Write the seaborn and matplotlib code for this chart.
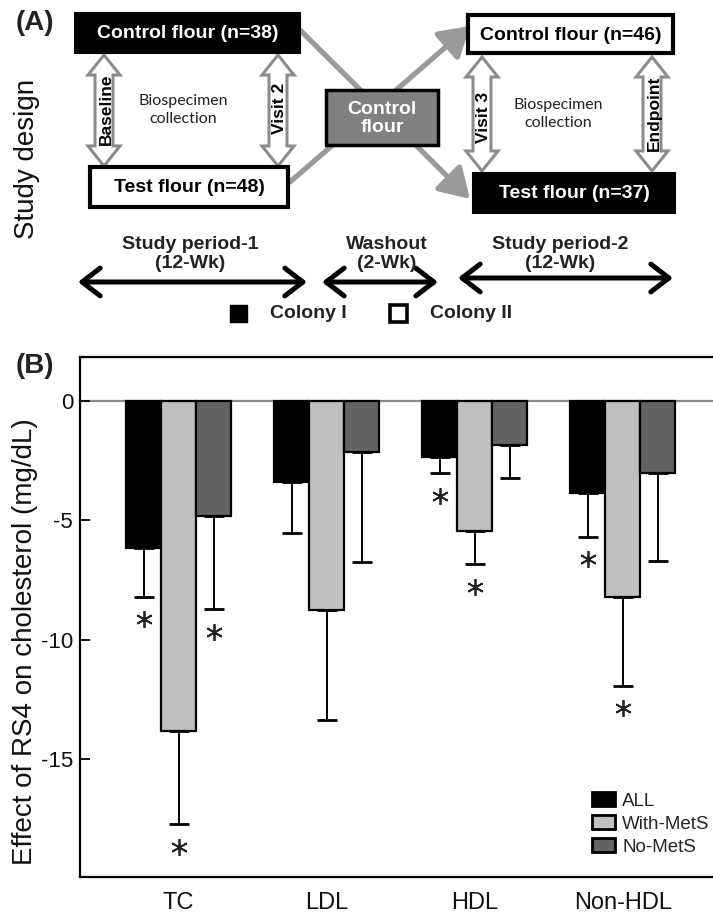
import matplotlib
matplotlib.use('Agg')
import matplotlib.pyplot as plt
import seaborn as sns
import pandas as pd
from matplotlib.patches import Rectangle, Polygon
from matplotlib import font_manager

# ---------------- data (panel B) ----------------
categories = ['TC', 'LDL', 'HDL', 'Non-HDL']
groups = ['ALL', 'With-MetS', 'No-MetS']
all_mean = [-6.18, -3.39, -2.37, -3.85]
all_err = [2.02, 2.13, 0.67, 1.84]
with_mean = [-13.82, -8.75, -5.44, -8.20]
with_err = [3.89, 4.61, 1.41, 3.72]
no_mean = [-4.82, -2.13, -1.85, -3.04]
no_err = [3.91, 4.61, 1.37, 3.65]
all_sig = [True, False, True, True]
with_sig = [True, False, True, True]
no_sig = [True, False, False, False]
yticks = [0, -5, -10, -15]
bar_colors = ['#000000', '#c0c0c0', '#636363']
ylabel = 'Effect of RS4 on cholesterol (mg/dL)'

# ---------------- text (panel A) ----------------
design_boxes = ['Control flour (n=38)', 'Test flour (n=48)', 'Control\nflour',
                'Control flour (n=46)', 'Test flour (n=37)']
visit_labels = ['Baseline', 'Visit 2', 'Visit 3', 'Endpoint']
collection_label = 'Biospecimen\ncollection'
period_labels = ['Study period-1\n(12-Wk)', 'Washout\n(2-Wk)', 'Study period-2\n(12-Wk)']
colony_labels = ['Colony I', 'Colony II']
panel_labels = ['(A)', '(B)']
design_ylabel = 'Study design'

sns.set_theme(style='white')


def has_font(name):
    try:
        font_manager.findfont(font_manager.FontProperties(family=name),
                              fallback_to_default=False)
        return True
    except Exception:
        return False


SANS = 'Liberation Sans' if has_font('Liberation Sans') else 'DejaVu Sans'
NARROW = 'Liberation Sans Narrow' if has_font('Liberation Sans Narrow') else SANS
SOFT = 'Lato' if has_font('Lato') else SANS
plt.rcParams['font.family'] = [SANS, 'DejaVu Sans']

W, H = 713, 917
fig = plt.figure(figsize=(W / 100, H / 100), dpi=100)

# ================= Panel B =================
ax = fig.add_axes([80 / W, (H - 877) / H, (W - 80) / W + 0.02, 520 / H])
rows = []
for g, means in zip(groups, [all_mean, with_mean, no_mean]):
    for c, v in zip(categories, means):
        rows.append({'category': c, 'group': g, 'value': v})
df = pd.DataFrame(rows)

ax.axhline(0, color='#8a8a8a', lw=1.6, zorder=0.5)
sns.barplot(data=df, x='category', y='value', hue='group', order=categories,
            hue_order=groups, palette=bar_colors, saturation=1, width=0.71,
            edgecolor='black', linewidth=1.6, errorbar=None, ax=ax, zorder=2)

errs = [all_err, with_err, no_err]
sigs = [all_sig, with_sig, no_sig]
bar_containers = list(ax.containers)[:len(groups)]
for gi, cont in enumerate(bar_containers):
    for ci, bar in enumerate(cont.patches):
        x = bar.get_x() + bar.get_width() / 2
        y = bar.get_height()
        e = errs[gi][ci]
        ax.errorbar([x], [y], yerr=[[e], [0]], fmt='none', ecolor='black',
                    elinewidth=1.4, capsize=7.5, capthick=2, zorder=1.5)
        if sigs[gi][ci]:
            ax.plot([x], [y - e - 0.95], ls='none', marker=(6, 2, 0), ms=12,
                    mew=1.3, color='#222222', zorder=3)

ax.set_xlim(-0.666, -0.666 + (W - 80 + 14) / 148)
ax.set_ylim(-19.93, 1.83)
ax.set_yticks(yticks)
ax.set_yticklabels([str(t) for t in yticks], family=[NARROW, 'DejaVu Sans'])
ax.tick_params(axis='y', direction='in', length=7, width=1.4, labelsize=16,
               pad=5, colors='#111111', left=True)
ax.tick_params(axis='x', length=0, pad=11, labelsize=17, colors='#111111')
ax.set_xlabel('')
ax.set_ylabel('')
for s in ['left', 'top', 'bottom']:
    ax.spines[s].set_visible(True)
    ax.spines[s].set_color('black')
    ax.spines[s].set_linewidth(1.6)
ax.spines['right'].set_visible(False)

handles, labels = ax.get_legend_handles_labels()
for hnd in handles[:3]:
    hnd.set_linewidth(2.0)
ax.legend(handles[:3], labels[:3], loc='upper left', frameon=False,
          bbox_to_anchor=(592 / W, 1 - 792 / H), bbox_transform=fig.transFigure,
          borderpad=0, borderaxespad=0, fontsize=13.5, handlelength=1.2,
          handleheight=0.8, handletextpad=0.4, labelspacing=0.28)

fig.text(25 / W, 1 - 642 / H, ylabel, rotation=90, ha='center', va='center',
         fontsize=20, color='#111111')

# ================= Panel A (diagram, pixel coords) =================
ov = fig.add_axes([0, 0, 1, 1])
ov.set_xlim(0, W)
ov.set_ylim(H, 0)
ov.axis('off')

ov.text(35, 23, panel_labels[0], ha='center', va='center', fontsize=20,
        fontweight='bold', color='#222222')
ov.text(35, 366, panel_labels[1], ha='center', va='center', fontsize=20,
        fontweight='bold', color='#222222')
ov.text(27, 159, design_ylabel, rotation=90, ha='center', va='center',
        fontsize=20, color='#111111')

# grey connecting arrows (X shape through washout box)
grey = '#9a9a9a'
for (x0, y0), (x1, y1) in [((300, 30), (470, 199)), ((290, 182), (470, 26))]:
    ov.annotate('', xy=(x1, y1), xytext=(x0, y0),
                arrowprops=dict(arrowstyle='-|>,head_length=0.9,head_width=0.55',
                                lw=3.8, color=grey, shrinkA=0, shrinkB=0,
                                mutation_scale=20), zorder=1)

# boxes: (x0, y0, x1, y1, fill, textcolor, lw)
box_geo = [(75, 13, 300, 53, 'black', 'white', 1.5),
           (90, 167, 288, 207, 'white', 'black', 3.0),
           (326, 90, 438, 145, '#808080', 'white', 2.5),
           (468, 15, 673, 53, 'white', 'black', 3.0),
           (473, 173, 675, 213, 'black', 'white', 1.5)]
for (x0, y0, x1, y1, fc, tc, lw), label in zip(box_geo, design_boxes):
    ov.add_patch(Rectangle((x0, y0), x1 - x0, y1 - y0, fc=fc, ec='black',
                           lw=lw, zorder=3))
    ov.text((x0 + x1) / 2, (y0 + y1) / 2 + 1, label, ha='center', va='center',
            color=tc, fontsize=14, fontweight='bold', zorder=4,
            linespacing=1.05)


def hollow_double_arrow(cx, y0, y1, sw=9, hw=16, hl=20):
    pts = [(cx, y0), (cx + hw, y0 + hl), (cx + sw, y0 + hl), (cx + sw, y1 - hl),
           (cx + hw, y1 - hl), (cx, y1), (cx - hw, y1 - hl), (cx - sw, y1 - hl),
           (cx - sw, y0 + hl), (cx - hw, y0 + hl)]
    ov.add_patch(Polygon(pts, closed=True, fc='white', ec='#8c8c8c', lw=2.2,
                         zorder=2))


visit_geo = [(104, 55, 166, 109), (278, 55, 166, 108),
             (482, 57, 171, 117), (652, 57, 171, 113)]
for (cx, y0, y1, ty), lab in zip(visit_geo, visit_labels):
    hollow_double_arrow(cx, y0, y1)
    ov.text(cx + 2, ty, lab, rotation=90, ha='center', va='center',
            fontsize=12.5, fontweight='bold', color='black', zorder=3)

for cx, cy in [(183, 110), (558, 114)]:
    ov.text(cx, cy, collection_label, ha='center', va='center', fontsize=11.5,
            family=[SOFT, 'DejaVu Sans'], color='#222222', linespacing=1.3)

# period arrows and labels
period_geo = [(78, 307, 282, 190), (322, 438, 282, 387), (458, 673, 278, 560)]
for (x0, x1, y, tx), lab in zip(period_geo, period_labels):
    ov.annotate('', xy=(x1, y), xytext=(x0, y),
                arrowprops=dict(arrowstyle='<->,head_length=0.65,head_width=0.5',
                                lw=3.6, color='black', shrinkA=0, shrinkB=0,
                                mutation_scale=20))
    ov.text(tx, 254, lab, ha='center', va='center', fontsize=14,
            fontweight='bold', color='#222222', linespacing=1.2)

# colony legend
for (sx, fc, lw), lab in zip([(230, 'black', 1.0), (390, 'white', 2.6)],
                             colony_labels):
    ov.add_patch(Rectangle((sx, 305), 17, 17, fc=fc, ec='black', lw=lw))
    ov.text(sx + 40, 314, lab, ha='left', va='center', fontsize=14,
            fontweight='bold', color='#222222')

fig.savefig('out.png', dpi=100)
